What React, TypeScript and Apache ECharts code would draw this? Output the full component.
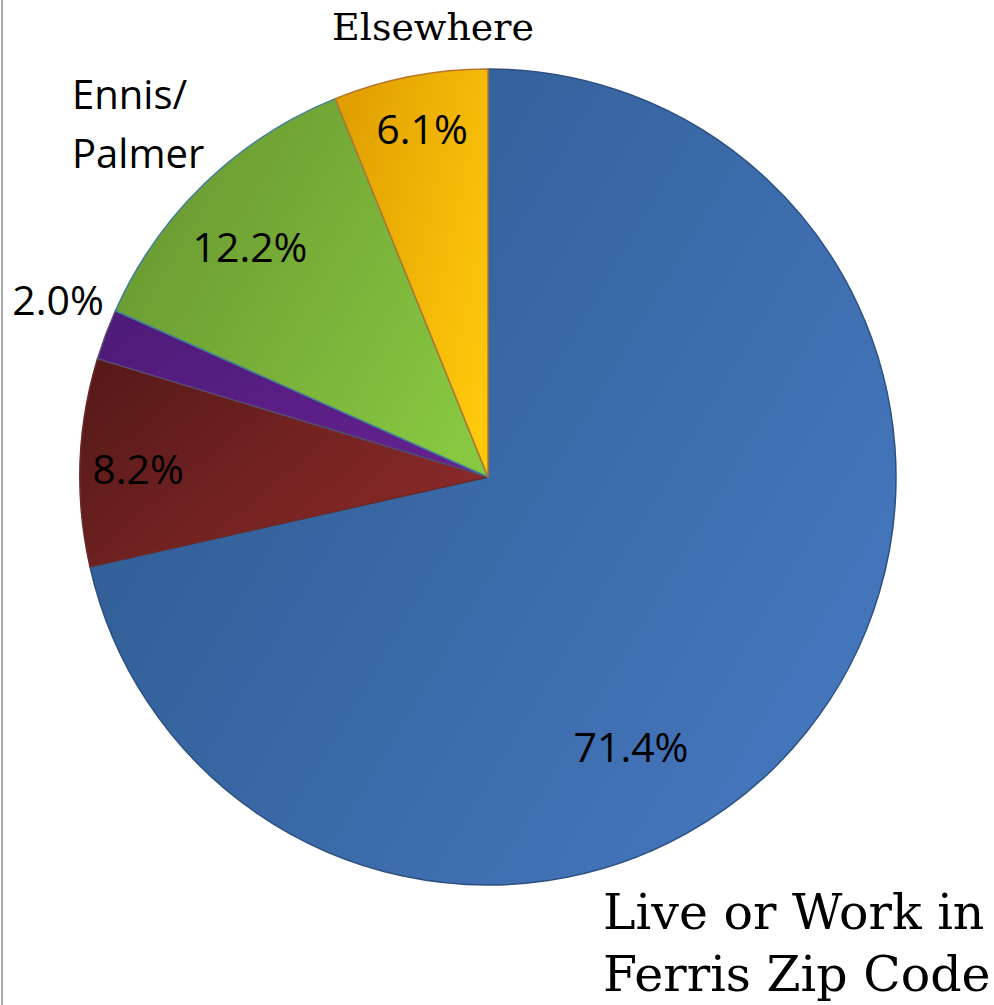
import React, { useEffect, useRef } from "react";
import * as echarts from "echarts";

// ---- data ----
const categories = ["Live or Work in\nFerris Zip Code", "", "", "Ennis/\nPalmer", "Elsewhere"];
const shares = [71.4, 8.2, 2.0, 12.2, 6.1];

// ---- styles ----
const gradStops = [
  ["#2e5a8f", "#4678bf"],
  ["#581a19", "#8e2b2a"],
  ["#4f1b7a", "#63228f"],
  ["#689630", "#88c841"],
  ["#e09f00", "#ffca0c"],
];
const borderColors = ["#2c5080", "#6a2a28", "#5a4a70", "#3f7fa0", "#b8762a"];
const nameFonts = ["DejaVu Serif", "", "", "Open Sans", "DejaVu Serif"];
const nameSizes = [49, 0, 0, 40, 38];
const nameLineHeights = [62, 0, 0, 59, 44];

// ---- layout ----
const PIE = { cx: 488, cy: 477, r: 408 };
const pctPos = [
  [631, 746],
  [138, 468],
  [58, 299],
  [250, 246],
  [422, 128],
];
const namePos: ({ x: number; y: number; align: string } | null)[] = [
  { x: 603, y: 943, align: "left" },
  null,
  null,
  { x: 72, y: 123, align: "left" },
  { x: 433, y: 27, align: "center" },
];

export default function App() {
  const ref = useRef<HTMLDivElement>(null);
  useEffect(() => {
    if (!ref.current) return;
    const chart = echarts.init(ref.current, undefined, { renderer: "svg" });
    const fillOf = (i: number) => ({
      type: "linear",
      x: 0,
      y: 0.2,
      x2: 1,
      y2: 0.8,
      colorStops: [
        { offset: 0, color: gradStops[i][0] },
        { offset: 1, color: gradStops[i][1] },
      ],
    });
    chart.setOption({
      animation: false,
      backgroundColor: "#ffffff",
      graphic: [
        {
          type: "line",
          shape: { x1: 2, y1: 0, x2: 2, y2: 1005 },
          style: { stroke: "#a8a8a8", lineWidth: 2 },
        },
      ],
      series: [
        {
          type: "pie",
          center: [PIE.cx, PIE.cy],
          radius: PIE.r,
          startAngle: 90,
          clockwise: true,
          avoidLabelOverlap: false,
          labelLine: { show: false },
          label: {
            show: true,
            position: "inside",
            formatter: (p: any) => p.value.toFixed(1) + "%",
            fontFamily: "Open Sans",
            fontSize: 41,
            color: "#000000",
            fontWeight: "normal",
          },
          labelLayout: (p: any) => ({
            x: pctPos[p.dataIndex][0],
            y: pctPos[p.dataIndex][1],
            align: "center",
            verticalAlign: "middle",
          }),
          data: shares.map((v, i) => ({
            value: v,
            name: categories[i],
            itemStyle: { color: fillOf(i), borderColor: borderColors[i], borderWidth: 1.5 },
          })),
        },
        {
          type: "pie",
          silent: true,
          center: [PIE.cx, PIE.cy],
          radius: PIE.r,
          startAngle: 90,
          clockwise: true,
          avoidLabelOverlap: false,
          labelLine: { show: false },
          itemStyle: { color: "rgba(0,0,0,0)", borderWidth: 0 },
          label: {
            show: true,
            position: "inside",
            formatter: "{b}",
            color: "#000000",
          },
          labelLayout: (p: any) => {
            const np = namePos[p.dataIndex];
            if (!np) return {};
            return { x: np.x, y: np.y, align: np.align, verticalAlign: "middle" };
          },
          data: shares.map((v, i) => ({
            value: v,
            name: categories[i],
            label: namePos[i]
              ? {
                  show: true,
                  fontFamily: nameFonts[i],
                  fontSize: nameSizes[i],
                  lineHeight: nameLineHeights[i],
                }
              : { show: false },
          })),
        },
      ],
    });
    return () => chart.dispose();
  }, []);
  return (
    <div
      ref={ref}
      style={{ position: "fixed", left: 0, top: 0, width: 994, height: 1005 }}
    />
  );
}
